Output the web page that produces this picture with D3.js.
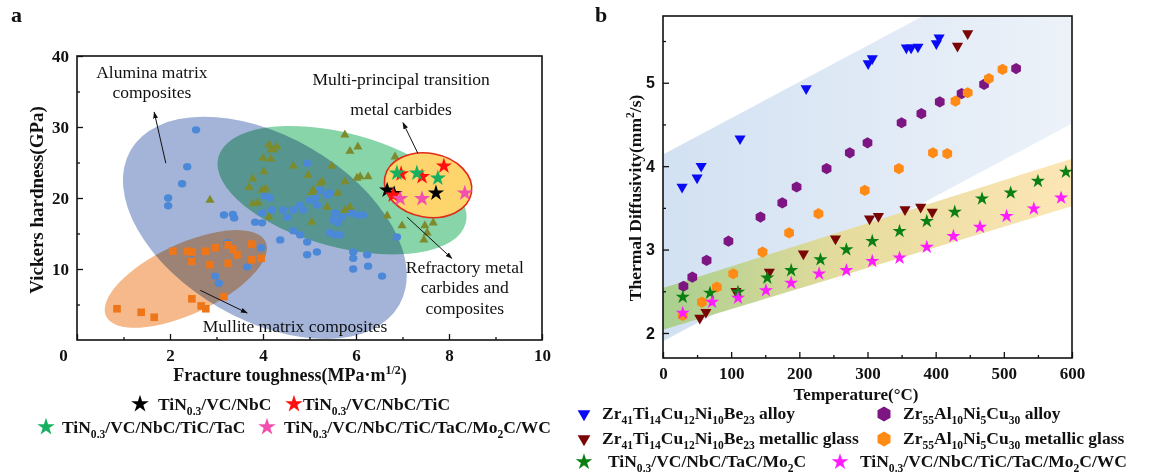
<!DOCTYPE html>
<html>
<head>
<meta charset="utf-8">
<script src="https://cdn.jsdelivr.net/npm/d3@7"></script>
<style>
  body { margin: 0; background: #fff; }
  text { font-family: "Liberation Serif", "Times New Roman", serif; fill: #111; }
</style>
</head>
<body>
<div id="chart"></div>
<script>
// ---------------- panel a : hardness vs toughness ----------------
const aluminaPts = [
  [2.56, 29.6], [2.37, 24.4], [2.26, 22.0], [1.96, 20.0], [1.96, 18.9], [3.16, 17.6], [3.35, 17.7],
  [3.38, 17.2], [3.83, 16.6], [3.98, 16.5], [4.04, 20.3], [4.15, 20.0], [3.98, 17.9], [3.23, 13.7],
  [3.96, 13.0], [3.66, 10.3], [2.97, 9.0], [3.05, 8.0], [2.47, 11.3], [4.37, 14.1], [4.65, 15.4],
  [4.95, 24.9], [5.23, 21.1], [5.44, 20.7], [4.43, 18.3], [4.65, 18.3], [4.52, 17.3], [4.19, 18.3],
  [5.51, 16.9], [5.61, 16.5], [5.70, 17.3], [5.91, 17.9], [6.04, 17.6], [6.15, 17.6], [5.55, 14.8],
  [5.66, 14.8], [4.80, 14.8], [4.95, 13.8], [5.16, 12.4], [4.95, 12.0], [5.94, 12.4], [6.24, 12.0],
  [6.88, 14.5], [5.94, 11.5], [5.94, 10.0], [6.26, 10.4], [6.56, 9.0], [5.44, 15.1], [5.87, 17.9],
  [5.55, 17.9], [5.16, 19.0], [4.86, 18.3], [5.38, 20.4], [5.01, 19.7], [5.12, 20.0], [4.80, 19.0]
];
const refractoryPts = [
  [4.13, 27.5], [4.17, 26.8], [4.00, 25.6], [4.17, 25.5], [4.02, 23.7], [3.78, 22.7], [3.70, 21.5],
  [3.98, 21.1], [4.06, 21.3], [3.78, 19.2], [3.89, 19.3], [4.13, 17.3], [2.86, 19.7], [5.76, 28.9],
  [5.87, 26.6], [6.04, 27.2], [4.65, 24.5], [5.48, 24.5], [5.27, 22.3], [5.76, 22.3], [6.02, 22.8],
  [6.09, 23.0], [6.26, 23.0], [4.97, 23.2], [4.22, 26.8], [4.30, 27.2], [5.08, 21.1], [5.61, 20.7],
  [5.87, 18.7], [6.67, 17.5], [6.99, 16.1], [7.48, 16.1], [7.66, 16.5], [7.53, 15.1], [7.46, 14.1],
  [6.84, 25.8], [5.76, 18.3], [5.23, 22.1], [5.05, 20.8], [5.38, 18.7], [5.05, 16.6]
];
const mullitePts = [
  [2.06, 12.5], [2.37, 12.5], [2.47, 12.4], [2.77, 12.5], [2.97, 13.0], [3.25, 13.4], [3.35, 12.8],
  [3.44, 12.0], [3.76, 13.5], [3.96, 11.5], [3.76, 11.3], [3.25, 10.8], [2.86, 10.6], [2.47, 11.1],
  [2.47, 5.8], [3.16, 6.1], [2.67, 4.8], [2.77, 4.4], [0.86, 4.4], [1.38, 3.9], [1.66, 3.2]
];
const hecNames = ['TiN_{0.3}/VC/NbC', 'TiN_{0.3}/VC/NbC/TiC', 'TiN_{0.3}/VC/NbC/TiC/TaC', 'TiN_{0.3}/VC/NbC/TiC/TaC/Mo_{2}C/WC'];
const hecColors = ['#000000', '#ff1010', '#16b060', '#f24fae'];
const hecPts = [
  [[6.67, 21.1], [6.82, 20.6], [7.72, 20.7]],
  [[6.97, 23.4], [7.42, 23.0], [7.89, 24.5], [6.80, 20.4]],
  [[6.88, 23.5], [7.31, 23.5], [7.76, 22.8]],
  [[6.95, 19.9], [7.42, 19.9], [8.34, 20.7]]
];
const xTicksA = [0, 2, 4, 6, 8, 10];
const yTicksA = [10, 20, 30, 40];

// ---------------- panel b : thermal diffusivity ----------------
const bandT = [0, 600];
const blueBandLow = [1.90, 4.51];
const blueBandHigh = [4.14, 6.75];
const yellowBandLow = [2.04, 3.52];
const yellowBandHigh = [2.54, 4.09];

const zrTiAlloy = [[28, 3.75], [50, 3.86], [56, 4.0], [113, 4.33], [210, 4.93], [301, 5.23], [307, 5.29],
  [357, 5.42], [364, 5.42], [374, 5.43], [401, 5.47], [405, 5.54]];
const zrTiGlass = [[54, 2.18], [63, 2.25], [107, 2.50], [156, 2.73], [206, 2.95], [253, 3.13], [303, 3.37],
  [316, 3.40], [355, 3.48], [378, 3.51], [395, 3.45], [432, 5.44], [447, 5.59]];
const zrAlAlloy = [[30, 2.56], [43, 2.67], [64, 2.87], [96, 3.10], [143, 3.39], [175, 3.56], [196, 3.75],
  [240, 3.97], [274, 4.16], [300, 4.28], [350, 4.52], [379, 4.63], [406, 4.77], [438, 4.87], [471, 4.98], [518, 5.17]];
const zrAlGlass = [[29, 2.21], [57, 2.37], [79, 2.55], [103, 2.71], [146, 2.97], [185, 3.20], [228, 3.43],
  [296, 3.71], [346, 3.97], [396, 4.16], [417, 4.15], [429, 4.78], [447, 4.88], [478, 5.05], [498, 5.16]];
const hec5 = [[29, 2.43], [69, 2.48], [110, 2.49], [153, 2.66], [188, 2.75], [231, 2.88], [269, 3.00],
  [307, 3.10], [347, 3.22], [387, 3.34], [428, 3.45], [468, 3.61], [510, 3.68], [550, 3.82], [591, 3.93]];
const hec7 = [[29, 2.24], [72, 2.37], [110, 2.42], [151, 2.51], [188, 2.60], [229, 2.71], [269, 2.75],
  [307, 2.86], [347, 2.90], [387, 3.03], [426, 3.16], [465, 3.27], [504, 3.40], [544, 3.49], [584, 3.62]];
const xTicksB = [0, 100, 200, 300, 400, 500, 600];
const yTicksB = [2, 3, 4, 5];

// ---------------- helpers ----------------
// text with _{sub} and ^{sup} parts
function richText(sel, str, size) {
  let shift = 0;
  str.split(/([_^]\{[^}]*\})/).filter(s => s.length).forEach(part => {
    let target = 0, content = part, fs = size;
    if (part[0] === '_') { target = size * 0.28; content = part.slice(2, -1); fs = size * 0.66; }
    else if (part[0] === '^') { target = -size * 0.4; content = part.slice(2, -1); fs = size * 0.66; }
    sel.append('tspan').attr('dy', target - shift).style('font-size', fs + 'px').text(content);
    shift = target;
  });
  return sel;
}

function hexPath(r) {
  const pts = d3.range(6).map(i => {
    const a = Math.PI / 3 * i - Math.PI / 2;
    return [r * Math.cos(a), r * Math.sin(a)];
  });
  return d3.line()(pts) + 'Z';
}
const star = s => d3.symbol(d3.symbolStar, s)();
const triUp = s => d3.symbol(d3.symbolTriangle, s)();

const svg = d3.select('#chart').append('svg')
  .attr('width', 1149)
  .attr('height', 475);

const defs = svg.append('defs');
defs.append('marker')
  .attr('id', 'arrow')
  .attr('viewBox', '0 0 10 10')
  .attr('refX', 9).attr('refY', 5)
  .attr('markerWidth', 7).attr('markerHeight', 7)
  .attr('orient', 'auto-start-reverse')
  .append('path').attr('d', 'M0,1.5L10,5L0,8.5Z').attr('fill', '#111');

// draws a boxed axis pair with inward ticks
function drawAxes(g, x, y, xMajor, xMinor, yMajor, yMinor, yFont) {
  const [x0, x1] = x.range();
  const [y0, y1] = y.range();
  g.append('g')
    .attr('transform', `translate(0,${y0})`)
    .call(d3.axisBottom(x).tickValues(xMinor).tickSizeInner(-3).tickSizeOuter(0).tickFormat(''))
    .call(a => a.select('.domain').remove());
  const xa = g.append('g')
    .attr('transform', `translate(0,${y0})`)
    .call(d3.axisBottom(x).tickValues(xMajor).tickSizeInner(-6).tickSizeOuter(0).tickFormat(d3.format('d')));
  xa.select('.domain').remove();
  xa.selectAll('text').style('font-size', '17px').style('font-weight', 'bold')
    .style('font-family', '"Liberation Serif", serif').attr('y', 9).attr('dy', '0.71em');
  g.append('g')
    .attr('transform', `translate(${x0},0)`)
    .call(d3.axisLeft(y).tickValues(yMinor).tickSizeInner(-3).tickSizeOuter(0).tickFormat(''))
    .call(a => a.select('.domain').remove());
  const ya = g.append('g')
    .attr('transform', `translate(${x0},0)`)
    .call(d3.axisLeft(y).tickValues(yMajor).tickSizeInner(-6).tickSizeOuter(0).tickPadding(8).tickFormat(d3.format('d')));
  ya.select('.domain').remove();
  ya.selectAll('text').style('font-size', yFont === 'sans' ? '16px' : '17px').style('font-weight', 'bold')
    .style('font-family', yFont === 'sans' ? '"Liberation Sans", Arial, sans-serif' : '"Liberation Serif", serif');
  g.selectAll('.tick line').attr('stroke', '#111').attr('stroke-width', 1.3);
  g.append('rect')
    .attr('x', x0).attr('y', y1)
    .attr('width', x1 - x0).attr('height', y0 - y1)
    .attr('fill', 'none').attr('stroke', '#111').attr('stroke-width', 1.6);
  return xa;
}

// ================= panel a =================
const xA = d3.scaleLinear().domain([0, 10]).range([77, 542]);
const yA = d3.scaleLinear().domain([0, 40]).range([340, 56]);
const pa = svg.append('g');

// material regions (center in data units, radii in px)
const regionsA = [
  { cx: 4.04, cy: 15.8, rx: 155, ry: 92, rot: 30, fill: '#a3b4d8', blend: 'normal' },
  { cx: 2.34, cy: 8.6, rx: 88, ry: 35, rot: -25, fill: '#f5b98b', blend: 'multiply' },
  { cx: 5.70, cy: 21.1, rx: 128, ry: 57, rot: 15, fill: '#88d5aa', blend: 'multiply' }
];
pa.selectAll('.region')
  .data(regionsA)
  .enter()
  .append('ellipse')
  .attr('class', 'region')
  .attr('transform', d => `translate(${xA(d.cx)},${yA(d.cy)}) rotate(${d.rot})`)
  .attr('rx', d => d.rx).attr('ry', d => d.ry)
  .attr('fill', d => d.fill)
  .style('mix-blend-mode', d => d.blend);

pa.selectAll('.alumina')
  .data(aluminaPts)
  .enter()
  .append('ellipse')
  .attr('cx', d => xA(d[0])).attr('cy', d => yA(d[1]))
  .attr('rx', 4.2).attr('ry', 3.7)
  .attr('fill', '#4b88d8');

pa.selectAll('.refr')
  .data(refractoryPts)
  .enter()
  .append('path')
  .attr('d', triUp(36))
  .attr('transform', d => `translate(${xA(d[0])},${yA(d[1])})`)
  .attr('fill', '#7d8b2c');

pa.selectAll('.mullite')
  .data(mullitePts)
  .enter()
  .append('rect')
  .attr('x', d => xA(d[0]) - 3.8).attr('y', d => yA(d[1]) - 3.8)
  .attr('width', 7.6).attr('height', 7.6)
  .attr('fill', '#ee7618');

// multi-principal carbide region
pa.append('ellipse')
  .attr('transform', `translate(${xA(7.55)},${yA(21.8)}) rotate(10)`)
  .attr('rx', 44).attr('ry', 32)
  .attr('fill', '#fdd56c')
  .attr('stroke', '#e02a1a').attr('stroke-width', 1.6);

hecPts.forEach((pts, i) => {
  pa.selectAll('.hec' + i)
    .data(pts)
    .enter()
    .append('path')
    .attr('d', star(82))
    .attr('transform', d => `translate(${xA(d[0])},${yA(d[1])})`)
    .attr('fill', hecColors[i]);
});

// annotations
const arrowsA = [
  [1.91, 24.9, 1.66, 32.1], [2.65, 7.0, 3.66, 3.8], [7.33, 26.3, 7.01, 30.6], [7.10, 17.3, 8.06, 11.5]
];
pa.selectAll('.arr')
  .data(arrowsA)
  .enter()
  .append('line')
  .attr('x1', d => xA(d[0])).attr('y1', d => yA(d[1]))
  .attr('x2', d => xA(d[2])).attr('y2', d => yA(d[3]))
  .attr('stroke', '#111').attr('stroke-width', 1)
  .attr('marker-end', 'url(#arrow)');

const notesA = [
  ['Alumina matrix', 1.61, 36.9], ['composites', 1.61, 34.1],
  ['Multi-principal transition', 6.97, 35.9], ['metal carbides', 6.97, 31.7],
  ['Refractory metal', 8.34, 9.4], ['carbides and', 8.34, 6.6], ['composites', 8.34, 3.7],
  ['Mullite matrix composites', 4.69, 1.1]
];
pa.selectAll('.note')
  .data(notesA)
  .enter()
  .append('text')
  .attr('x', d => xA(d[1])).attr('y', d => yA(d[2]))
  .attr('text-anchor', 'middle')
  .style('font-size', '17.5px')
  .text(d => d[0]);

const xaA = drawAxes(pa, xA, yA, xTicksA, [1, 3, 5, 7, 9], yTicksA, [5, 15, 25, 35], 'serif');
xaA.selectAll('.tick').filter(d => d === 0).select('text').attr('dx', -14);

richText(pa.append('text')
  .attr('x', 290).attr('y', 381)
  .attr('text-anchor', 'middle')
  .style('font-size', '18px').style('font-weight', 'bold'), 'Fracture toughness(MPa·m^{1/2})', 18);

pa.append('text')
  .attr('transform', 'translate(43,200) rotate(-90)')
  .attr('text-anchor', 'middle')
  .style('font-size', '19px').style('font-weight', 'bold')
  .text('Vickers hardness(GPa)');

// legend a : [symbol x, row y, text x]
const legendA = [[140, 404, 158], [294, 404, 303], [46, 427, 62], [267, 427, 284]];
legendA.forEach((p, i) => {
  pa.append('path').attr('d', star(95))
    .attr('transform', `translate(${p[0]},${p[1]})`)
    .attr('fill', hecColors[i]);
  richText(pa.append('text').attr('x', p[2]).attr('y', p[1] + 6)
    .style('font-size', '17.5px').style('font-weight', 'bold'), hecNames[i], 17.5);
});

svg.append('text').attr('x', 11).attr('y', 22)
  .style('font-size', '22px').style('font-weight', 'bold').text('a');

// ================= panel b =================
const xB = d3.scaleLinear().domain([0, 600]).range([663, 1072]);
const yB = d3.scaleLinear().domain([1.7, 5.8]).range([358, 16]);
const pb = svg.append('g');

defs.append('clipPath').attr('id', 'clipB')
  .append('rect')
  .attr('x', 663).attr('y', 16).attr('width', 1072 - 663).attr('height', 358 - 16);

const gBlue = defs.append('linearGradient').attr('id', 'gBlue')
  .attr('gradientUnits', 'userSpaceOnUse').attr('x1', 663).attr('x2', 1072).attr('y1', 0).attr('y2', 0);
gBlue.append('stop').attr('offset', 0).attr('stop-color', '#d2e1f2');
gBlue.append('stop').attr('offset', 1).attr('stop-color', '#edf2f9');
const gYel = defs.append('linearGradient').attr('id', 'gYel')
  .attr('gradientUnits', 'userSpaceOnUse').attr('x1', 663).attr('x2', 1072).attr('y1', 0).attr('y2', 0);
gYel.append('stop').attr('offset', 0).attr('stop-color', '#a9cf8e');
gYel.append('stop').attr('offset', 0.45).attr('stop-color', '#e6dc9d');
gYel.append('stop').attr('offset', 1).attr('stop-color', '#fde6b6');

const band = (lo, hi) => d3.area()
  .x((d, i) => xB(bandT[i]))
  .y0((d, i) => yB(lo[i]))
  .y1((d, i) => yB(hi[i]))(bandT);

const bands = pb.append('g').attr('clip-path', 'url(#clipB)');
bands.append('path').attr('d', band(blueBandLow, blueBandHigh)).attr('fill', 'url(#gBlue)');
bands.append('path').attr('d', band(yellowBandLow, yellowBandHigh)).attr('fill', 'url(#gYel)');

const seriesB = [
  { data: zrTiAlloy, color: '#0a0af5', shape: 'tri', name: 'Zr_{41}Ti_{14}Cu_{12}Ni_{10}Be_{23} alloy' },
  { data: zrTiGlass, color: '#7a0505', shape: 'tri', name: 'Zr_{41}Ti_{14}Cu_{12}Ni_{10}Be_{23} metallic glass' },
  { data: zrAlAlloy, color: '#7d1682', shape: 'hex', name: 'Zr_{55}Al_{10}Ni_{5}Cu_{30} alloy' },
  { data: zrAlGlass, color: '#ff8a16', shape: 'hex', name: 'Zr_{55}Al_{10}Ni_{5}Cu_{30} metallic glass' },
  { data: hec5, color: '#0b7f12', shape: 'star', name: 'TiN_{0.3}/VC/NbC/TaC/Mo_{2}C' },
  { data: hec7, color: '#ff1dff', shape: 'star', name: 'TiN_{0.3}/VC/NbC/TiC/TaC/Mo_{2}C/WC' }
];
const shapePath = (shape, big) => shape === 'tri' ? triUp(big ? 70 : 54)
  : shape === 'hex' ? hexPath(big ? 7.5 : 5.6) : star(big ? 85 : 62);

seriesB.forEach((s, i) => {
  pb.selectAll('.s' + i)
    .data(s.data)
    .enter()
    .append('path')
    .attr('d', shapePath(s.shape, false))
    .attr('transform', d => `translate(${xB(d[0])},${yB(d[1])})` + (s.shape === 'tri' ? ' rotate(180)' : ''))
    .attr('fill', s.color);
});

drawAxes(pb, xB, yB, xTicksB, [50, 150, 250, 350, 450, 550], yTicksB, [2.5, 3.5, 4.5, 5.5], 'sans');

pb.append('text')
  .attr('x', 856).attr('y', 400)
  .attr('text-anchor', 'middle')
  .style('font-size', '17px').style('font-weight', 'bold')
  .text('Temperature(°C)');

richText(pb.append('text')
  .attr('transform', 'translate(641,198) rotate(-90)')
  .attr('text-anchor', 'middle')
  .style('font-size', '17.5px').style('font-weight', 'bold'), 'Thermal Diffusivity(mm^{2}/s)', 17.5);

// legend b : [symbol x, row y, text x]
const legendB = [[584, 414, 602], [584, 439, 602], [884, 414, 903], [884, 439, 903], [584, 462, 608], [840, 462, 860]];
seriesB.forEach((s, i) => {
  const p = legendB[i];
  pb.append('path').attr('d', shapePath(s.shape, true))
    .attr('transform', `translate(${p[0]},${p[1]})` + (s.shape === 'tri' ? ' rotate(180)' : ''))
    .attr('fill', s.color);
  richText(pb.append('text').attr('x', p[2]).attr('y', p[1] + 5)
    .style('font-size', '17.5px').style('font-weight', 'bold'), s.name, 17.5);
});

svg.append('text').attr('x', 595).attr('y', 22)
  .style('font-size', '22px').style('font-weight', 'bold').text('b');
</script>
</body>
</html>
